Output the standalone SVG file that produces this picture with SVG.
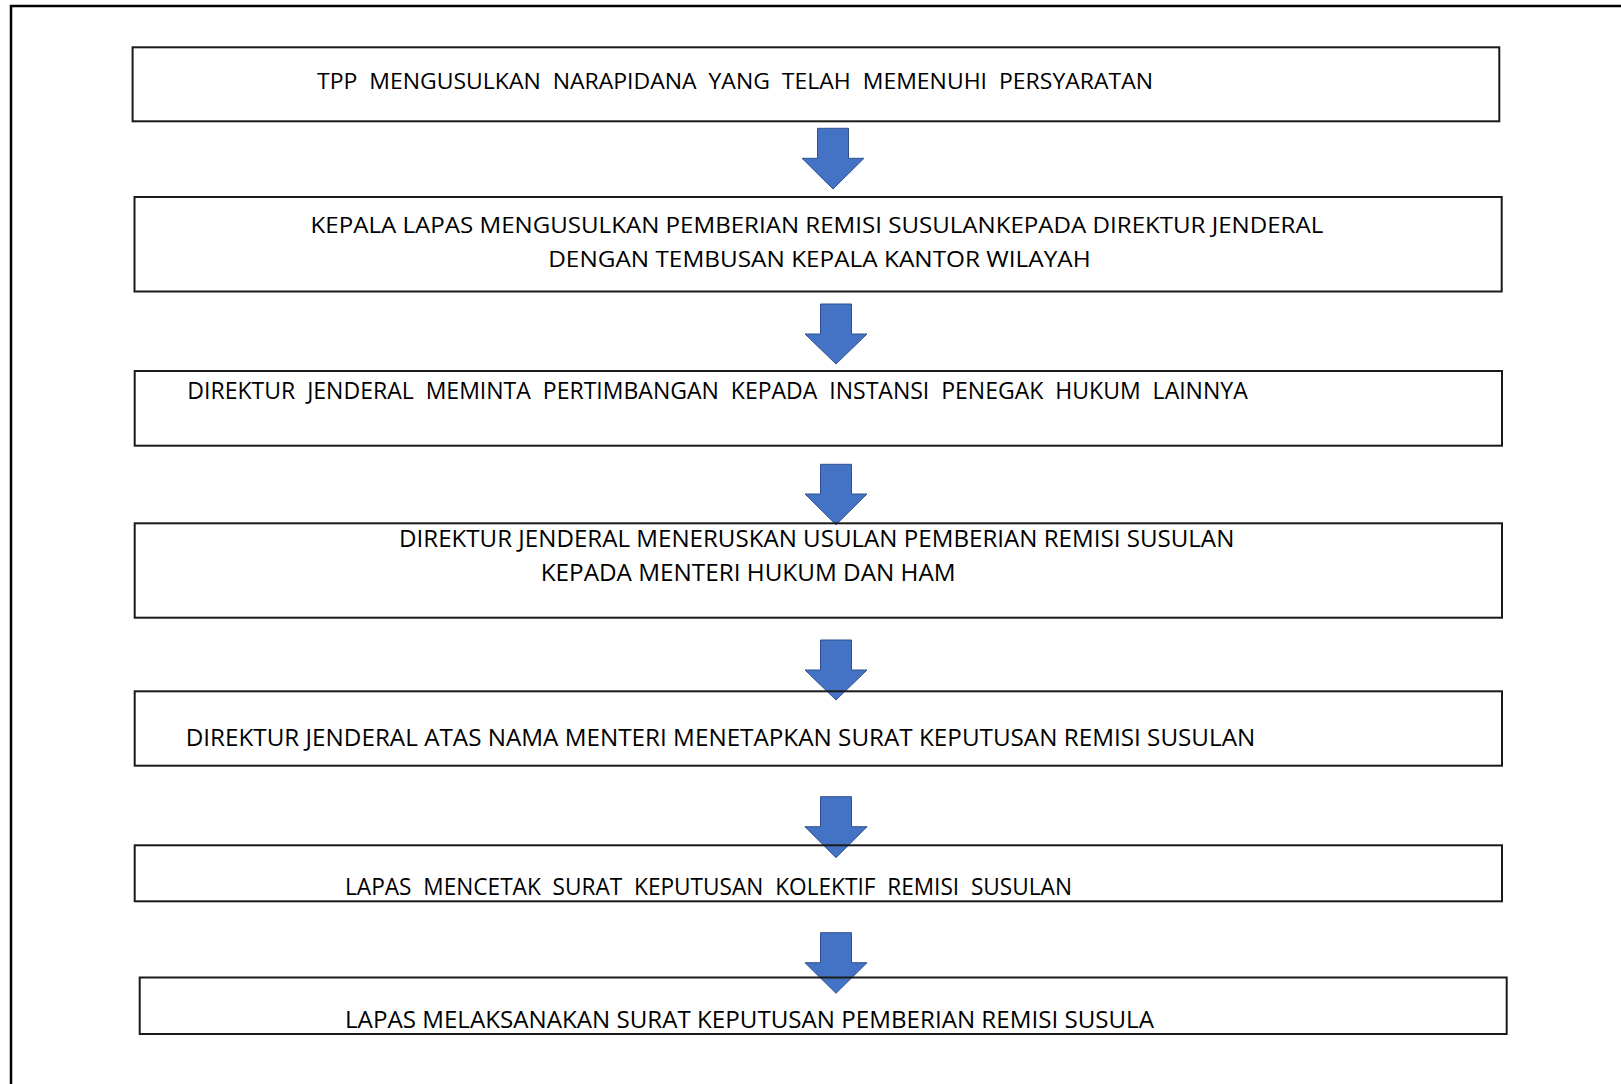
<svg xmlns="http://www.w3.org/2000/svg" width="1621" height="1084" viewBox="0 0 1621 1084">
<defs>
<style>
.box{fill:none;stroke:#1a1a1a;stroke-width:2}
.frame{fill:none;stroke:#000;stroke-width:2.5}
.arr{fill:#4472C4;stroke:#2F528F;stroke-width:1}
.t{font-family:"Open Sans","Noto Sans","Liberation Sans",sans-serif;fill:#000;white-space:pre}
.s21{font-size:21.5px}
.s23{font-size:23px}
</style>
</defs>
<rect width="1621" height="1084" fill="#fff"/>
<path class="frame" d="M11,1084 V6 H1621"/>
<g id="connectors">
<polygon class="arr" points="817.5,128.3 848.5,128.3 848.5,158.3 864,158.3 833,189 802,158.3 817.5,158.3"/>
<polygon class="arr" points="820.5,304 851.5,304 851.5,334 867,334 836,364 805,334 820.5,334"/>
<polygon class="arr" points="820.5,464.3 851.5,464.3 851.5,494 867,494 836,524.7 805,494 820.5,494"/>
<polygon class="arr" points="820.5,640 851.5,640 851.5,670 867,670 836,700 805,670 820.5,670"/>
<polygon class="arr" points="820.5,796.7 851.5,796.7 851.5,826.7 867,826.7 836,857.7 805,826.7 820.5,826.7"/>
<polygon class="arr" points="820.5,932.7 851.5,932.7 851.5,962.7 867,962.7 836,993.3 805,962.7 820.5,962.7"/>
</g>
<g id="node1">
<rect class="box" x="132.6" y="47.3" width="1366.7" height="74"/>
<text class="t s21" x="317" y="89" textLength="836" lengthAdjust="spacingAndGlyphs">TPP  MENGUSULKAN  NARAPIDANA  YANG  TELAH  MEMENUHI  PERSYARATAN</text>
</g>
<g id="node2">
<rect class="box" x="134.5" y="197" width="1367.2" height="94.5"/>
<text class="t s21" x="310.6" y="233.3" textLength="1012.7" lengthAdjust="spacingAndGlyphs">KEPALA LAPAS MENGUSULKAN PEMBERIAN REMISI SUSULANKEPADA DIREKTUR JENDERAL</text>
<text class="t s21" x="548.2" y="266.7" textLength="542.5" lengthAdjust="spacingAndGlyphs">DENGAN TEMBUSAN KEPALA KANTOR WILAYAH</text>
</g>
<g id="node3">
<rect class="box" x="134.7" y="371" width="1367.3" height="74.7"/>
<text class="t s23" x="187.3" y="399.3" textLength="1060.4" lengthAdjust="spacingAndGlyphs">DIREKTUR  JENDERAL  MEMINTA  PERTIMBANGAN  KEPADA  INSTANSI  PENEGAK  HUKUM  LAINNYA</text>
</g>
<g id="node4">
<rect class="box" x="134.7" y="523.3" width="1367.3" height="94.4"/>
<text class="t s23" x="399" y="547" textLength="835.3" lengthAdjust="spacingAndGlyphs">DIREKTUR JENDERAL MENERUSKAN USULAN PEMBERIAN REMISI SUSULAN</text>
<text class="t s23" x="540.7" y="581" textLength="415" lengthAdjust="spacingAndGlyphs">KEPADA MENTERI HUKUM DAN HAM</text>
</g>
<g id="node5">
<rect class="box" x="134.7" y="691.3" width="1367.3" height="74.4"/>
<text class="t s23" x="185.7" y="746" textLength="1069.6" lengthAdjust="spacingAndGlyphs">DIREKTUR JENDERAL ATAS NAMA MENTERI MENETAPKAN SURAT KEPUTUSAN REMISI SUSULAN</text>
</g>
<g id="node6">
<rect class="box" x="134.7" y="845.3" width="1367.3" height="56"/>
<text class="t s23" x="345" y="895" textLength="727" lengthAdjust="spacingAndGlyphs">LAPAS  MENCETAK  SURAT  KEPUTUSAN  KOLEKTIF  REMISI  SUSULAN</text>
</g>
<g id="node7">
<rect class="box" x="139.7" y="977.5" width="1367" height="56.5"/>
<text class="t s23" x="345" y="1028" textLength="809" lengthAdjust="spacingAndGlyphs">LAPAS MELAKSANAKAN SURAT KEPUTUSAN PEMBERIAN REMISI SUSULA</text>
</g>
</svg>
